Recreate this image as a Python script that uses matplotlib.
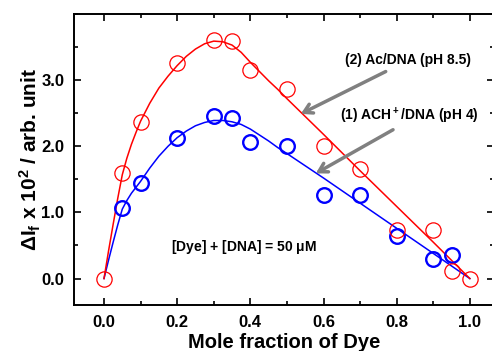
import matplotlib
matplotlib.use("Agg")
import matplotlib.pyplot as plt
from matplotlib.ticker import MultipleLocator

plt.rcParams['font.family'] = ['Liberation Sans', 'DejaVu Sans']
plt.rcParams['font.weight'] = 'bold'
plt.rcParams['mathtext.fontset'] = 'custom'
plt.rcParams['mathtext.rm'] = 'Liberation Sans:bold'
plt.rcParams['mathtext.it'] = 'Liberation Sans:bold'
plt.rcParams['mathtext.bf'] = 'Liberation Sans:bold'

# measured points
x_red = [0.0, 0.05, 0.1, 0.2, 0.3, 0.35, 0.4, 0.5, 0.6, 0.7, 0.8, 0.9, 0.95, 1.0]
y_red = [0.0, 1.60, 2.36, 3.26, 3.61, 3.59, 3.16, 2.87, 2.01, 1.66, 0.74, 0.74, 0.12, 0.0]
x_blue = [0.05, 0.1, 0.2, 0.3, 0.35, 0.4, 0.5, 0.6, 0.7, 0.8, 0.9, 0.95]
y_blue = [1.06, 1.45, 2.13, 2.46, 2.42, 2.06, 2.01, 1.27, 1.27, 0.65, 0.30, 0.35]

# fitted curves
x_fit = [0.0, 0.0125, 0.025, 0.0375, 0.05, 0.0625, 0.075, 0.0875, 0.1, 0.125, 0.15,
         0.175, 0.2, 0.225, 0.25, 0.275, 0.3, 0.325, 0.35, 0.375, 0.4, 0.425, 0.45,
         0.475, 0.5, 0.6, 0.7, 0.8, 0.9, 1.0]
y_fit_red = [0.0, 0.42, 0.82, 1.21, 1.57, 1.82, 2.03, 2.21, 2.38, 2.65, 2.88,
             3.06, 3.22, 3.36, 3.47, 3.55, 3.59, 3.58, 3.53, 3.42, 3.27, 3.13, 2.99,
             2.86, 2.72, 2.18, 1.63, 1.09, 0.55, 0.0]
y_fit_blue = [0.0, 0.28, 0.55, 0.81, 1.05, 1.18, 1.29, 1.38, 1.47, 1.67, 1.85,
              2.00, 2.13, 2.23, 2.31, 2.36, 2.39, 2.39, 2.37, 2.33, 2.26, 2.17, 2.08,
              1.98, 1.89, 1.52, 1.14, 0.76, 0.38, 0.0]

fig = plt.figure(figsize=(4.92, 3.51), dpi=100)
ax = fig.add_axes([74/492, 46/351, 420/492, 291/351])

ax.plot(x_fit, y_fit_blue, color='blue', lw=1.1)
ax.plot(x_fit, y_fit_red, color='red', lw=1.1)
ax.plot(x_blue, y_blue, 'o', mfc='none', mec='blue', mew=1.7, ms=10.5)
ax.plot(x_red, y_red, 'o', mfc='none', mec='red', mew=0.9, ms=11)

ax.set_xlim(-0.082, 1.066)
ax.set_ylim(-0.4, 4.0)
ax.xaxis.set_minor_locator(MultipleLocator(0.1))
ax.yaxis.set_minor_locator(MultipleLocator(0.5))
ax.set_yticks([0, 1, 2, 3])
ax.set_yticklabels(['0.0', '1.0', '2.0', '3.0'])
ax.set_xticks([0, 0.2, 0.4, 0.6, 0.8, 1.0])
ax.set_xticklabels(['0.0', '0.2', '0.4', '0.6', '0.8', '1.0'])
ax.tick_params(which='both', direction='in', top=True, right=True, width=1.2)
ax.tick_params(which='major', length=5, labelsize=12, pad=7)
ax.tick_params(which='minor', length=3)
for s in ax.spines.values():
    s.set_linewidth(1.4)

ax.set_xlabel('Mole fraction of Dye', fontsize=14.5, fontweight='bold', labelpad=2)
ax.set_ylabel(r'$\Delta$I$_\mathrm{f}$ x 10$^2$ / arb. unit', fontsize=15, fontweight='bold', labelpad=-1)

ax.text(0.382, 0.47, r'[Dye] + [DNA] = 50 $\mu$M', fontsize=10, fontweight='bold',
        ha='center', va='center')
ax.text(0.83, 3.30, '(2) Ac/DNA (pH 8.5)', fontsize=10, fontweight='bold',
        ha='center', va='center')
ax.text(0.835, 2.46, r'(1) ACH$^+$/DNA (pH 4)', fontsize=10, fontweight='bold',
        ha='center', va='center')

arrow = dict(arrowstyle='->,head_length=0.6,head_width=0.35', color='gray', lw=2.5,
             shrinkA=0, shrinkB=0)
ax.annotate('', xy=(0.538, 2.49), xytext=(0.77, 3.13), arrowprops=arrow)
ax.annotate('', xy=(0.579, 1.59), xytext=(0.79, 2.25), arrowprops=arrow)

fig.savefig('out.png', dpi=100)
